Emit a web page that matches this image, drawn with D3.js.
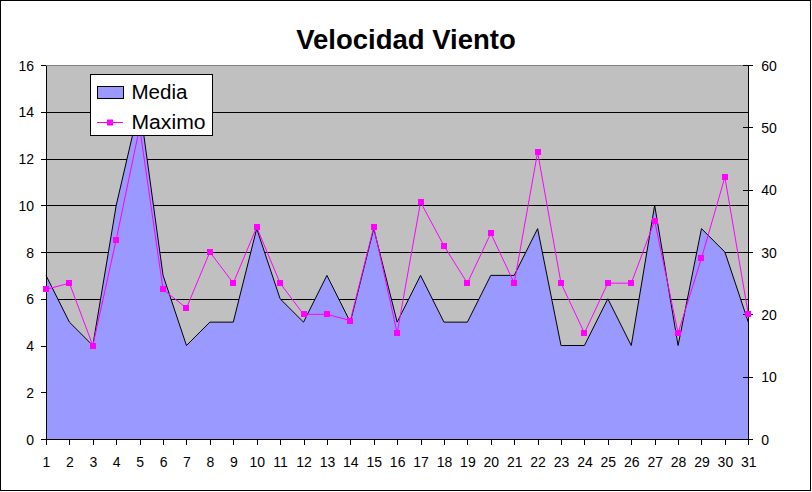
<!DOCTYPE html>
<html>
<head>
<meta charset="utf-8">
<script src="https://cdn.jsdelivr.net/npm/d3@7"></script>
<style>
  html, body { margin: 0; padding: 0; background: #fff; }
  svg { display: block; }
  text { font-family: "Liberation Sans", Arial, sans-serif; fill: #000; }
</style>
</head>
<body>
<svg id="chart" width="812" height="492"></svg>
<script>
// ---- data ----
const title = "Velocidad Viento";
const days = ["1","2","3","4","5","6","7","8","9","10","11","12","13","14","15","16","17","18","19","20","21","22","23","24","25","26","27","28","29","30","31"];
const media = [7,5,4,10,14.3,7,4,5,5,9,6,5,7,5,9,5,7,5,5,7,7,9,4,4,6,4,10,4,9,8,5];
const maximo = [24,25,15,32,50,24,21,30,25,34,25,20,20,19,34,17,38,31,25,33,25,46,25,17,25,25,35,17,29,42,20];
const leftTicks = [0,2,4,6,8,10,12,14,16];
const rightTicks = [0,10,20,30,40,50,60];
const seriesNames = ["Media", "Maximo"];

// ---- layout ----
const svg = d3.select("#chart");
const plot = { left: 46, right: 748.3, top: 65, bottom: 439 };

const x = d3.scalePoint().domain(days).range([plot.left, plot.right]).padding(0);
const yL = d3.scaleLinear().domain([0, 16]).range([plot.bottom, plot.top]);
const yR = d3.scaleLinear().domain([0, 60]).range([plot.bottom, plot.top]);

// outer border
svg.append("rect").attr("x", 0.5).attr("y", 0.5).attr("width", 810).attr("height", 490)
  .attr("fill", "#fff").attr("stroke", "#000").attr("stroke-width", 1);

// title
svg.append("text").attr("x", 406).attr("y", 48.5).attr("text-anchor", "middle")
  .style("font-size", "27.5px").style("font-weight", "bold").text(title);

// plot background
svg.append("rect").attr("x", plot.left).attr("y", plot.top)
  .attr("width", plot.right - plot.left).attr("height", plot.bottom - plot.top)
  .attr("fill", "#C0C0C0");
svg.append("line").attr("x1", plot.left).attr("x2", plot.right)
  .attr("y1", plot.top + 0.5).attr("y2", plot.top + 0.5)
  .attr("stroke", "#808080").attr("shape-rendering", "crispEdges");

// gridlines
svg.append("g").selectAll("line").data(leftTicks.filter(d => d > 0 && d < 16)).join("line")
  .attr("x1", plot.left).attr("x2", plot.right)
  .attr("y1", d => Math.round(yL(d)) + 0.5).attr("y2", d => Math.round(yL(d)) + 0.5)
  .attr("stroke", "#000").attr("shape-rendering", "crispEdges");

// Media area
const area = d3.area().x(d => x(d.day)).y0(yL(0)).y1(d => yL(d.v));
const mediaData = days.map((d, i) => ({ day: d, v: media[i] }));
svg.append("path").datum(mediaData).attr("d", area).attr("fill", "#9999FF");
svg.append("path").datum(mediaData)
  .attr("d", d3.line().x(d => x(d.day)).y(d => yL(d.v)))
  .attr("fill", "none").attr("stroke", "#000").attr("stroke-width", 1);

// axes
function styleAxis(g) {
  g.selectAll("path").attr("stroke", "#000").attr("shape-rendering", "crispEdges");
  g.selectAll("line").attr("stroke", "#000").attr("shape-rendering", "crispEdges");
  g.selectAll("text").style("font-size", "14px").attr("font-family", null);
}

const gL = svg.append("g").attr("transform", `translate(${plot.left},0)`)
  .call(d3.axisLeft(yL).tickValues(leftTicks).tickSize(5).tickSizeOuter(0).tickPadding(7));
styleAxis(gL);
gL.selectAll("text").attr("dy", "0.36em");

const gR = svg.append("g").attr("transform", `translate(${plot.right},0)`)
  .call(d3.axisRight(yR).tickValues(rightTicks).tickSize(5).tickSizeOuter(0).tickPadding(8));
styleAxis(gR);
gR.selectAll(".tick line").attr("x1", -5);
gR.selectAll("text").attr("dy", "0.36em");

const gB = svg.append("g").attr("transform", `translate(0,${plot.bottom})`)
  .call(d3.axisBottom(x).tickSize(6).tickSizeOuter(0).tickPadding(12));
styleAxis(gB);

// Maximo line + markers
const maxData = days.map((d, i) => ({ day: d, v: maximo[i] }));
svg.append("path").datum(maxData)
  .attr("d", d3.line().x(d => x(d.day)).y(d => yR(d.v)))
  .attr("fill", "none").attr("stroke", "#FF00FF").attr("stroke-width", 1);
svg.append("g").selectAll("rect").data(maxData).join("rect")
  .attr("x", d => Math.round(x(d.day)) - 3).attr("y", d => Math.round(yR(d.v)) - 3)
  .attr("width", 6).attr("height", 6).attr("fill", "#FF00FF");

// legend
const lg = svg.append("g");
lg.append("rect").attr("x", 90.5).attr("y", 74.5).attr("width", 122).attr("height", 61)
  .attr("fill", "#fff").attr("stroke", "#000").attr("shape-rendering", "crispEdges");
lg.append("rect").attr("x", 97.5).attr("y", 86.5).attr("width", 26).attr("height", 12)
  .attr("fill", "#9999FF").attr("stroke", "#000").attr("shape-rendering", "crispEdges");
lg.append("text").attr("x", 131.5).attr("y", 98.5).style("font-size", "19.5px")
  .attr("textLength", 56).attr("lengthAdjust", "spacingAndGlyphs").text(seriesNames[0]);
lg.append("line").attr("x1", 97).attr("x2", 123).attr("y1", 122.5).attr("y2", 122.5)
  .attr("stroke", "#FF00FF");
lg.append("rect").attr("x", 107).attr("y", 119.5).attr("width", 6).attr("height", 6).attr("fill", "#FF00FF");
lg.append("text").attr("x", 131.5).attr("y", 128.5).style("font-size", "19.5px")
  .attr("textLength", 74).attr("lengthAdjust", "spacingAndGlyphs").text(seriesNames[1]);
</script>
</body>
</html>
